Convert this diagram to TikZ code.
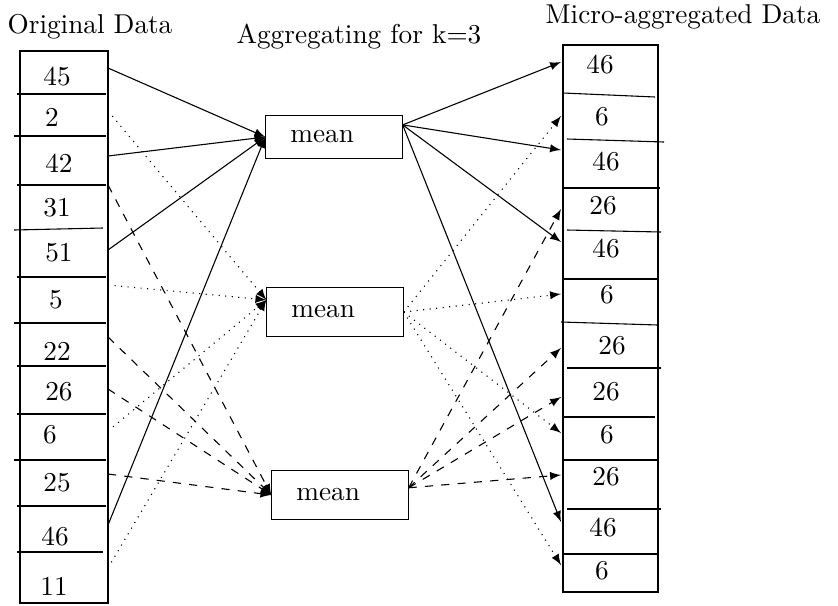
\documentclass[tikz,border=0pt]{standalone}
\usetikzlibrary{arrows}
\begin{document}
\begin{tikzpicture}[x=0.367pt,y=-0.367pt,>=latex,
        meanbox/.style={draw, text width=32pt, inner xsep=9pt, align=left, minimum height=18pt}]
        \useasboundingbox (0,0) rectangle (838,605);
        % titles
        \node[anchor=base] (torig) at (90,33) {Original Data};
        \node[anchor=base] (tagg) at (359,43) {Aggregating for k=3};
        \node[anchor=base] (tmicro) at (683,23) {Micro-aggregated Data};
        % the two columns
        \draw (20,51) rectangle (108,603);
        \draw (563,45) rectangle (658,592);
        \foreach \a/\b/\c/\d in {17/94/106/94, 14/136/106/136, 17/185/106/185, 14/230/103/228,
                17/277/106/277, 14/323/106/323, 17/366/106/366, 17/414/106/414,
                14/460/106/460, 17/506/106/506, 17/552/103/552,
                563/93/655/97, 567/139/664/142, 563/188/660/188, 567/230/661/232,
                563/279/658/279, 561/322/658/325, 567/368/661/368, 563/417/655/417,
                563/460/658/460, 567/509/661/509, 563/554/658/554} {
                \draw (\a,\b) -- (\c,\d);
            }
        % original values
        \foreach \v/\x/\y/\e [count=\i] in {45/57/77/68, 2/52/117/111, 42/59/163/156, 31/57/208/185,
                51/59/253/250, 5/56/300/285, 22/57/351/337, 26/59/392/389,
                6/50/435/431, 25/57/483/474, 46/55/537/525, 11/54/586/568} {
                \node (l\i) at (\x,\y) {\v};
                \coordinate (le\i) at (108,\e);
            }
        % aggregated values
        \foreach \v/\x/\y/\e [count=\i] in {46/600/65/62, 6/602/117/116, 46/606/162/150, 26/603/206/209,
                46/606/249/242, 6/607/295/294, 26/612/346/348, 26/606/392/397,
                6/607/435/433, 26/606/477/475, 46/603/528/522, 6/602/571/565} {
                \node (r\i) at (\x,\y) {\v};
                \coordinate (re\i) at (561,\e);
            }
        % means
        \node[meanbox, minimum height=15.8pt] (m1) at (334,137) {mean};
        \node[meanbox] (m2) at (335,312) {mean};
        \node[meanbox] (m3) at (340,495) {mean};
        % arrows in
        \foreach \i in {1,3,5,11} \draw[->] (le\i) -- (m1.west);
        \foreach \i in {2,6,9,12} \draw[->, dotted] (le\i) -- (m2.170);
        \foreach \i in {4,7,8,10} \draw[->, dashed] (le\i) -- (m3.west);
        % arrows out
        \foreach \i in {1,3,5,11} \draw[->] (m1.10) -- (re\i);
        \foreach \i in {2,6,9,12} \draw[->, dotted] (m2.east) -- (re\i);
        \foreach \i in {4,7,8,10} \draw[->, dashed] (m3.6) -- (re\i);
    \end{tikzpicture}
\end{document}
